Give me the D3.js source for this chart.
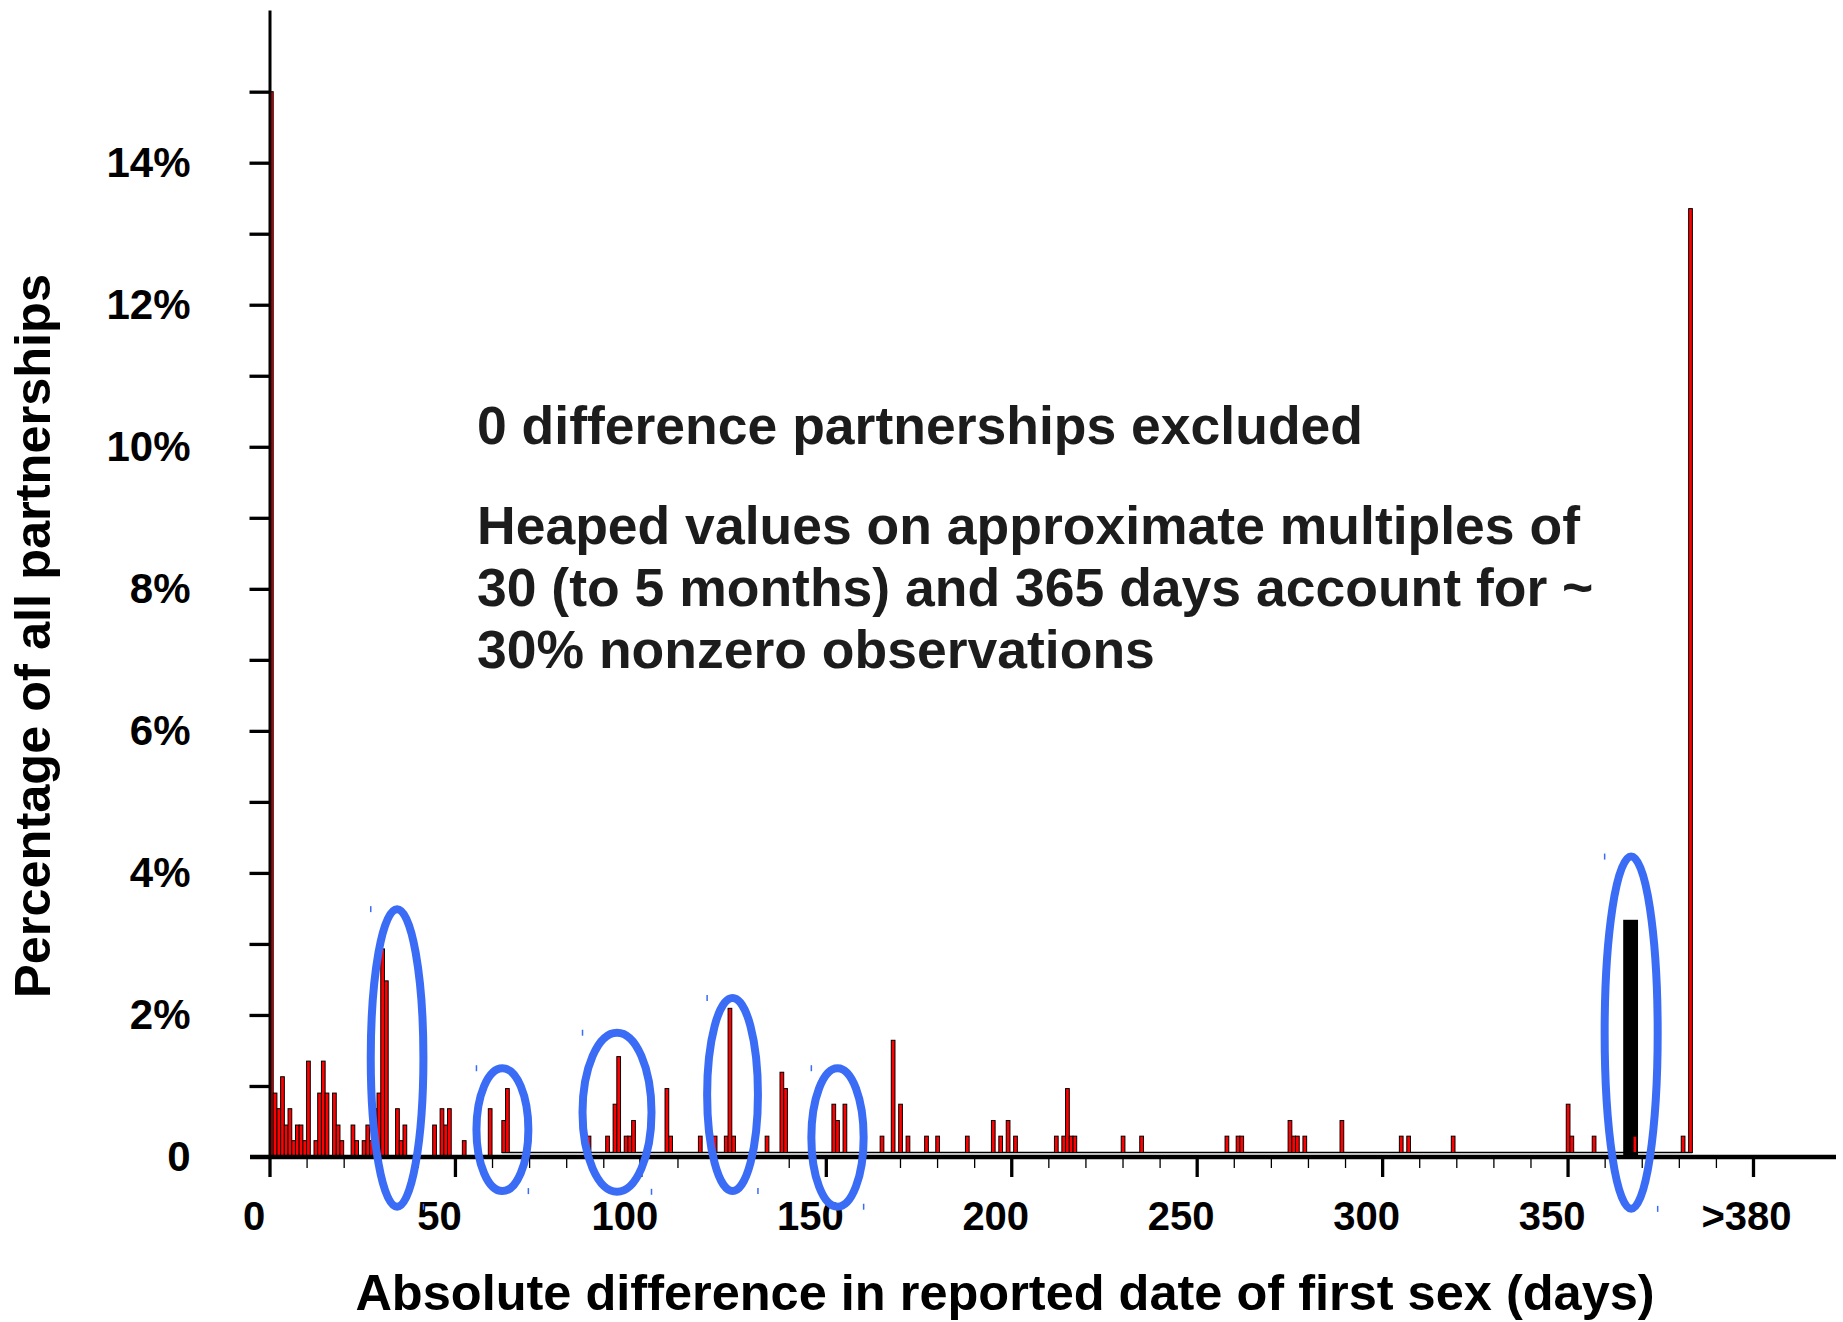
<!DOCTYPE html>
<html>
<head>
<meta charset="utf-8">
<script src="https://cdn.jsdelivr.net/npm/d3@7"></script>
<style>
  html, body { margin: 0; padding: 0; background: #fff; }
  svg { display: block; }
  text { font-family: "Liberation Sans", Arial, Helvetica, sans-serif; font-weight: bold; }
</style>
</head>
<body>
<svg id="chart" width="1843" height="1322"></svg>
<script>
// bars resting on the x axis (short differences, in days)
const shortDays = [1, 2, 3, 4, 5, 6, 7, 8, 9, 10, 11, 13, 14, 15, 16, 18, 19, 20, 23, 24, 26, 27, 28, 29, 30,
    31, 32, 35, 36, 37, 45, 47, 48, 49, 53, 60];
const shortPct = [15.0, 0.90, 0.68, 1.13, 0.45, 0.68, 0.23, 0.45, 0.45, 0.23, 1.35, 0.23, 0.90, 1.35, 0.90,
    0.90, 0.45, 0.23, 0.45, 0.23, 0.23, 0.45, 0.23, 0.68, 0.90, 2.93, 2.48, 0.68, 0.23, 0.45, 0.45, 0.68,
    0.45, 0.68, 0.23, 0.68];

// bars on the raised baseline (384 = the ">380" bin)
const longDays = [64, 65, 87, 92, 94, 95, 97, 98, 99, 108, 109, 117, 121, 124, 125, 126, 135, 139, 140,
    153, 154, 156, 166, 169, 171, 173, 178, 181, 189, 196, 198, 200, 202, 213, 215, 216, 217, 218, 231,
    236, 259, 262, 263, 276, 277, 278, 280, 290, 306, 308, 320, 351, 352, 358, 369, 382, 384];
const longPct = [0.45, 0.90, 0.23, 0.23, 0.68, 1.35, 0.23, 0.23, 0.45, 0.90, 0.23, 0.23, 0.23, 0.23, 2.03,
    0.23, 0.23, 1.13, 0.90, 0.68, 0.45, 0.68, 0.23, 1.58, 0.68, 0.23, 0.23, 0.23, 0.23, 0.45, 0.23, 0.45,
    0.23, 0.23, 0.23, 0.90, 0.23, 0.23, 0.23, 0.23, 0.23, 0.23, 0.23, 0.45, 0.23, 0.23, 0.23, 0.45, 0.23,
    0.23, 0.23, 0.68, 0.23, 0.23, 0.23, 0.23, 13.29];

// heap around 365 days, drawn as one black block
const heapDays = [365, 369];
const heapPct = 3.34;

// hand drawn rings round the heaps: day span and percent span
const ringDays = [[27.3, 41.5], [55.8, 69.8], [84.4, 103.0], [118.0, 131.7], [146.1, 160.2], [360.0, 374.3]];
const ringPct = [[3.49, -0.70], [1.25, -0.48], [1.75, -0.49], [2.24, -0.48], [1.25, -0.70], [4.23, -0.73]];

const xTicks = [0, 50, 100, 150, 200, 250, 300, 350, 400];
const xTickLabels = ["0", "50", "100", "150", "200", "250", "300", "350", ">380"];
const yTicks = [0, 2, 4, 6, 8, 10, 12, 14];

const noteLines = [
    "0 difference partnerships excluded",
    "Heaped values on approximate multiples of",
    "30 (to 5 months) and 365 days account for ~",
    "30% nonzero observations"
];

const svg = d3.select("#chart");

const x = d3.scaleLinear().domain([0, 400]).range([269.5, 1753]);
const y = d3.scaleLinear().domain([0, 16.15]).range([1157, 10]);

// the right part of the figure sits a little up and left of the axis
const shiftX = -1.3, shiftY = -4.5;

// raised baseline
svg.append("line")
    .attr("x1", x(63) + shiftX).attr("x2", x(384) + shiftX)
    .attr("y1", y(0) + shiftY).attr("y2", y(0) + shiftY)
    .attr("stroke", "#000").attr("stroke-width", 1.5);

svg.append("rect")
    .attr("x", x(heapDays[0]))
    .attr("width", x(heapDays[1]) - x(heapDays[0]))
    .attr("y", y(heapPct))
    .attr("height", y(0) - y(heapPct))
    .attr("fill", "#000");

svg.append("g").selectAll("rect")
    .data(shortDays)
    .join("rect")
    .attr("x", d => x(d - 1))
    .attr("width", d => x(d) - x(d - 1))
    .attr("y", (d, i) => y(shortPct[i]))
    .attr("height", (d, i) => y(0) - y(shortPct[i]))
    .attr("fill", "#ff0000")
    .attr("stroke", "#000")
    .attr("stroke-width", 1);

svg.append("g").selectAll("rect")
    .data(longDays)
    .join("rect")
    .attr("x", d => x(d - 1) + shiftX)
    .attr("width", d => x(d) - x(d - 1))
    .attr("y", (d, i) => y(longPct[i]) + shiftY)
    .attr("height", (d, i) => y(0) - y(longPct[i]))
    .attr("fill", "#ff0000")
    .attr("stroke", "#000")
    .attr("stroke-width", 1);

// x axis
const xMinor = svg.append("g")
    .attr("transform", `translate(0,${y(0)})`)
    .call(d3.axisBottom(x).tickValues(d3.range(0, 401, 10)).tickSize(11).tickFormat(""));
xMinor.select(".domain").remove();
xMinor.selectAll(".tick line").attr("stroke-width", 1.3);

const xMajor = svg.append("g")
    .attr("transform", `translate(0,${y(0)})`)
    .call(d3.axisBottom(x).tickValues(xTicks).tickSize(20).tickPadding(25)
        .tickFormat((d, i) => xTickLabels[i]));
xMajor.select(".domain").remove();
xMajor.selectAll(".tick line").attr("stroke-width", 3.3);
xMajor.selectAll(".tick text")
    .attr("font-size", 40)
    .attr("fill", "#000")
    .attr("dx", (d, i) => i === xTicks.length - 1 ? -7 : -16);

svg.append("line")
    .attr("x1", 250).attr("x2", 1836)
    .attr("y1", y(0)).attr("y2", y(0))
    .attr("stroke", "#000").attr("stroke-width", 4.5);

// y axis
const yMinor = svg.append("g")
    .attr("transform", `translate(${x(0)},0)`)
    .call(d3.axisLeft(y).tickValues(d3.range(1, 16)).tickSize(20).tickSizeOuter(0).tickFormat(""));
yMinor.select(".domain").attr("stroke-width", 3);
yMinor.selectAll(".tick line").attr("stroke-width", 3.3);

const yLabels = svg.append("g")
    .attr("transform", `translate(${x(0)},0)`)
    .call(d3.axisLeft(y).tickValues(yTicks).tickSize(0).tickPadding(79)
        .tickFormat(d => d === 0 ? "0" : d + "%"));
yLabels.select(".domain").remove();
yLabels.selectAll(".tick text").attr("font-size", 42).attr("fill", "#000");

// axis titles
svg.append("text")
    .attr("transform", "translate(50,636) rotate(-90)")
    .attr("text-anchor", "middle")
    .attr("font-size", 50.5)
    .text("Percentage of all partnerships");

svg.append("text")
    .attr("x", 1005).attr("y", 1310)
    .attr("text-anchor", "middle")
    .attr("font-size", 50.5)
    .text("Absolute difference in reported date of first sex (days)");

// note
const noteY = [444, 544, 606, 668];
svg.append("g").selectAll("text")
    .data(noteLines)
    .join("text")
    .attr("x", 477)
    .attr("y", (d, i) => noteY[i])
    .attr("font-size", 53.5)
    .attr("fill", "#1c1c1c")
    .text(d => d);

// blue rings
const rings = svg.append("g");
ringDays.forEach((dd, i) => {
    const pp = ringPct[i];
    const x0 = x(dd[0]), x1 = x(dd[1]);
    const y0 = y(pp[0]), y1 = y(pp[1]);
    rings.append("ellipse")
        .attr("cx", (x0 + x1) / 2).attr("cy", (y0 + y1) / 2)
        .attr("rx", (x1 - x0) / 2).attr("ry", (y1 - y0) / 2)
        .attr("fill", "none")
        .attr("stroke", "#3a6cf6")
        .attr("stroke-width", 8);
    // left-over selection marks
    rings.append("line")
        .attr("x1", x0).attr("x2", x0).attr("y1", y0 - 3).attr("y2", y0 + 3)
        .attr("stroke", "#3a6cf6").attr("stroke-width", 1.5);
    rings.append("line")
        .attr("x1", x1).attr("x2", x1).attr("y1", y1 - 3).attr("y2", y1 + 3)
        .attr("stroke", "#3a6cf6").attr("stroke-width", 1.5);
});
</script>
</body>
</html>
